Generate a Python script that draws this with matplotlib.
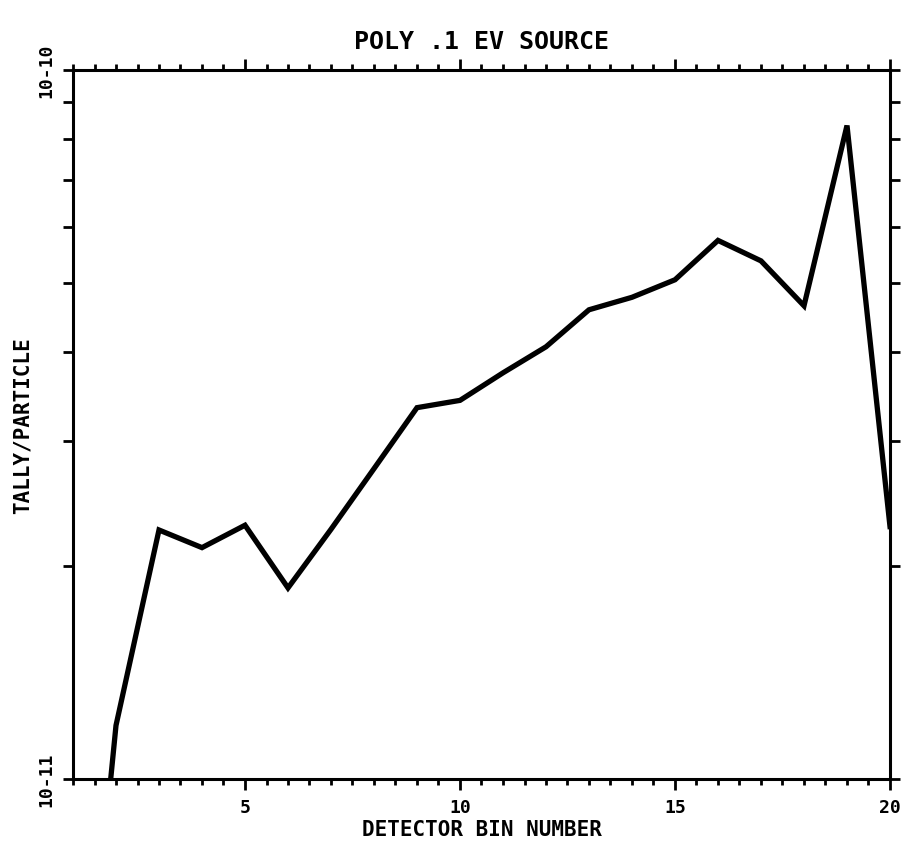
import numpy as np
import matplotlib
matplotlib.use('Agg')
import matplotlib.pyplot as plt
from matplotlib.ticker import FixedLocator, NullFormatter

# detector bin number vs tally per particle
bins = [1, 2, 3, 4, 5, 6, 7, 8, 9, 10, 11, 12, 13, 14, 15, 16, 17, 18, 19, 20]
tally = [2.9e-12, 1.19e-11, 2.245e-11, 2.12e-11, 2.28e-11, 1.86e-11, 2.25e-11,
         2.74e-11, 3.34e-11, 3.42e-11, 3.74e-11, 4.07e-11, 4.59e-11, 4.78e-11,
         5.06e-11, 5.75e-11, 5.38e-11, 4.65e-11, 8.35e-11, 2.27e-11]

title = 'POLY .1 EV SOURCE'
xlabel = 'DETECTOR BIN NUMBER'
ylabel = 'TALLY/PARTICLE'
xtick_vals = [5, 10, 15, 20]
ytick_vals = [1e-11, 1e-10]
ytick_labels = ['10-11', '10-10']

plt.rcParams['font.family'] = ['DejaVu Sans Mono']
plt.rcParams['font.weight'] = 'bold'

fig = plt.figure(figsize=(9.03, 8.53), dpi=100)
ax = fig.add_axes([73 / 903, 73 / 853, 817 / 903, 709 / 853])

ax.plot(bins, tally, color='black', linewidth=3.8, solid_joinstyle='miter',
        clip_on=True)

ax.set_yscale('log')
ax.set_xlim(1, 20)
ax.set_ylim(1e-11, 1e-10)

# x ticks: major every 5, minor every half bin
ax.xaxis.set_major_locator(FixedLocator(xtick_vals))
ax.xaxis.set_minor_locator(FixedLocator(np.arange(1, 20.01, 0.5)))
ax.set_xticklabels([str(v) for v in xtick_vals])

# y ticks: decades labelled, 2..9 as minor
ax.yaxis.set_major_locator(FixedLocator(ytick_vals))
ax.yaxis.set_minor_locator(FixedLocator([k * 1e-11 for k in range(2, 10)]))
ax.yaxis.set_minor_formatter(NullFormatter())
ax.set_yticklabels(ytick_labels, rotation=90, va='center')

ax.tick_params(which='both', direction='out', top=True, right=True,
               color='black', width=2)
ax.tick_params(axis='x', which='major', length=8, labelsize=13, pad=6)
ax.tick_params(axis='x', which='minor', length=4)
ax.tick_params(axis='y', which='both', length=7)
ax.tick_params(axis='y', which='major', labelsize=13, pad=6)

for sp in ax.spines.values():
    sp.set_linewidth(2.2)

ax.set_title(title, fontsize=18, fontweight='bold', pad=16)
ax.set_xlabel(xlabel, fontsize=15, fontweight='bold', va='center')
ax.xaxis.set_label_coords(0.5, -0.07)
ax.set_ylabel(ylabel, fontsize=15, fontweight='bold', va='center')
ax.yaxis.set_label_coords(-0.062, 0.5)

fig.savefig('out.png', dpi=100)
plt.close(fig)
